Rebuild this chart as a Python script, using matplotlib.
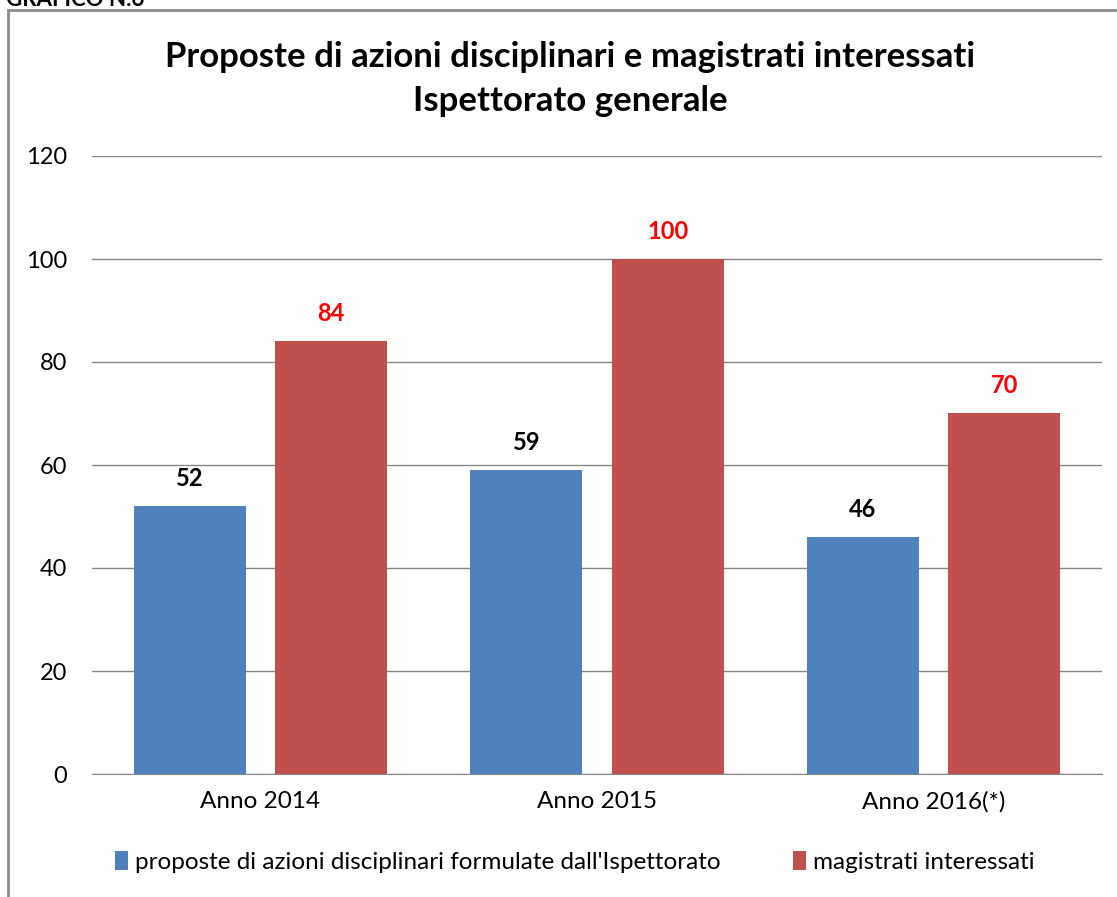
import matplotlib.pyplot as plt
import numpy as np
from matplotlib.patches import Rectangle

plt.rcParams['font.family'] = ['Lato', 'DejaVu Sans']

# data
anni = ["Anno 2014", "Anno 2015", "Anno 2016(*)"]
proposte = [52, 59, 46]
magistrati = [84, 100, 70]
serie = ["proposte di azioni disciplinari formulate dall'Ispettorato", "magistrati interessati"]
yticks = [0, 20, 40, 60, 80, 100, 120]

blu = "#4F81BD"
rosso = "#C0504D"

fig = plt.figure(figsize=(11.17, 8.97), dpi=100)

# outer frame of the chart (only left and top visible)
fig.patches.append(Rectangle((8 / 1117, -0.1), 1.2, 1 - 10 / 897 + 0.1,
                             transform=fig.transFigure, fill=False,
                             edgecolor="#8c8c8c", linewidth=2))

# caption above the frame, cut off as in the source
fig.text(0.005, 1.0, "GRAFICO N.6", fontsize=16, fontweight="bold", va="center", ha="left")

ax = fig.add_axes([92 / 1117, 1 - 774 / 897, 1010 / 1117, 618 / 897])

x = np.arange(len(anni))
w = 0.333
b1 = ax.bar(x - 0.21, proposte, w, color=blu, label=serie[0], zorder=3)
b2 = ax.bar(x + 0.21, magistrati, w, color=rosso, label=serie[1], zorder=3)

for xi, v in zip(x, proposte):
    ax.text(xi - 0.21, v + 3.2, str(v), ha="center", va="bottom", fontsize=17,
            fontweight="bold", color="black")
for xi, v in zip(x, magistrati):
    ax.text(xi + 0.21, v + 3.2, str(v), ha="center", va="bottom", fontsize=17,
            fontweight="bold", color="red")

ax.set_xlim(-0.5, 2.5)
ax.set_ylim(0, 120)
ax.set_yticks(yticks)
ax.set_xticks(x)
ax.set_xticklabels(anni, fontsize=17.5)
ax.tick_params(axis="y", length=0, labelsize=17, pad=18)
ax.tick_params(axis="x", length=0, pad=12)
ax.grid(axis="y", color="#868686", linewidth=1, zorder=0)
for s in ["top", "right", "left"]:
    ax.spines[s].set_visible(False)
ax.spines["bottom"].set_color("#868686")

fig.text(570 / 1117, 1 - 57 / 897, "Proposte di azioni disciplinari e magistrati interessati",
         ha="center", va="center", fontsize=25, fontweight="bold")
fig.text(570 / 1117, 1 - 101 / 897, "Ispettorato generale",
         ha="center", va="center", fontsize=25, fontweight="bold")

fig.legend(handles=[b1, b2], loc="center", bbox_to_anchor=(575 / 1117, 1 - 862 / 897),
           ncol=2, frameon=False, fontsize=17.5, handlelength=0.5, handleheight=0.8,
           handletextpad=0.3, columnspacing=3.0)

fig.savefig("out.png", dpi=100)
